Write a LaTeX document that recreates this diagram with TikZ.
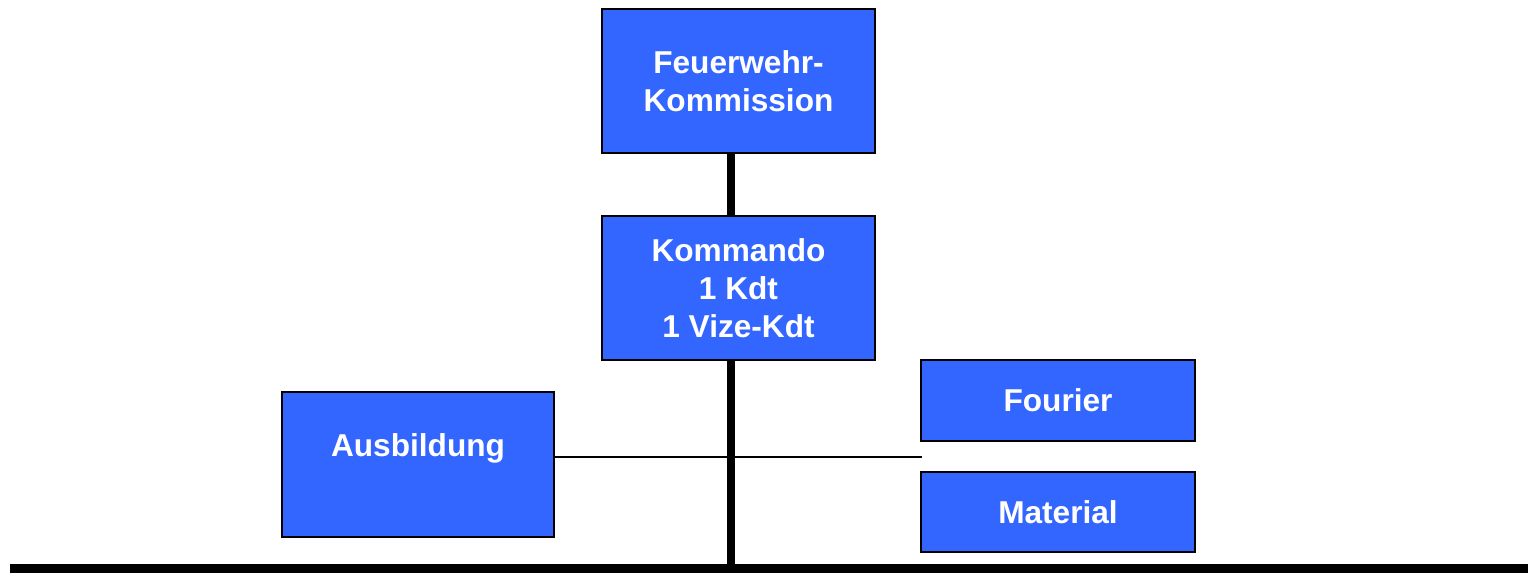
\documentclass[tikz,border=0pt]{standalone}
\usepackage{fontspec}
\setmainfont{Liberation Sans}
\definecolor{boxblue}{HTML}{3366FF}
\begin{document}
\begin{tikzpicture}[x=0.02cm,y=-0.02cm,line join=miter]
            \tikzset{box style/.style={draw=black,line width=1.1pt,fill=boxblue,text=white,
                font=\fontsize{18}{21.6}\selectfont\bfseries,align=center,inner sep=0pt},
                bar style/.style={line width=0.16cm,black},
                thin style/.style={line width=1.1pt,black}}
            \useasboundingbox (0,0) rectangle (1528,573);
            \node[box style,minimum width=5.46cm,minimum height=2.88cm] (feu) at (738.5,81) {Feuerwehr-\\Kommission};
            \node[box style,minimum width=5.46cm,minimum height=2.88cm] (kom) at (738.5,288) {Kommando\\1 Kdt\\1 Vize-Kdt};
            \node[box style,minimum width=5.44cm,minimum height=2.9cm] (aus) at (418,464.5) {Ausbildung\\~};
            \node[box style,minimum width=5.48cm,minimum height=1.62cm] (fou) at (1058,400.5) {Fourier};
            \node[box style,minimum width=5.48cm,minimum height=1.6cm] (mat) at (1058,512) {Material};
            \coordinate (spine) at (731,568.5);
            \coordinate (tee) at (922,457);
            \draw[bar style] (feu.south -| spine)--(kom.north -| spine);
            \draw[bar style] (kom.south -| spine)--(spine);
            \draw[thin style] (aus.east |- tee)--(tee);
            \draw[line width=0.18cm] (10,568.5)--(1528,568.5);
        \end{tikzpicture}
\end{document}
